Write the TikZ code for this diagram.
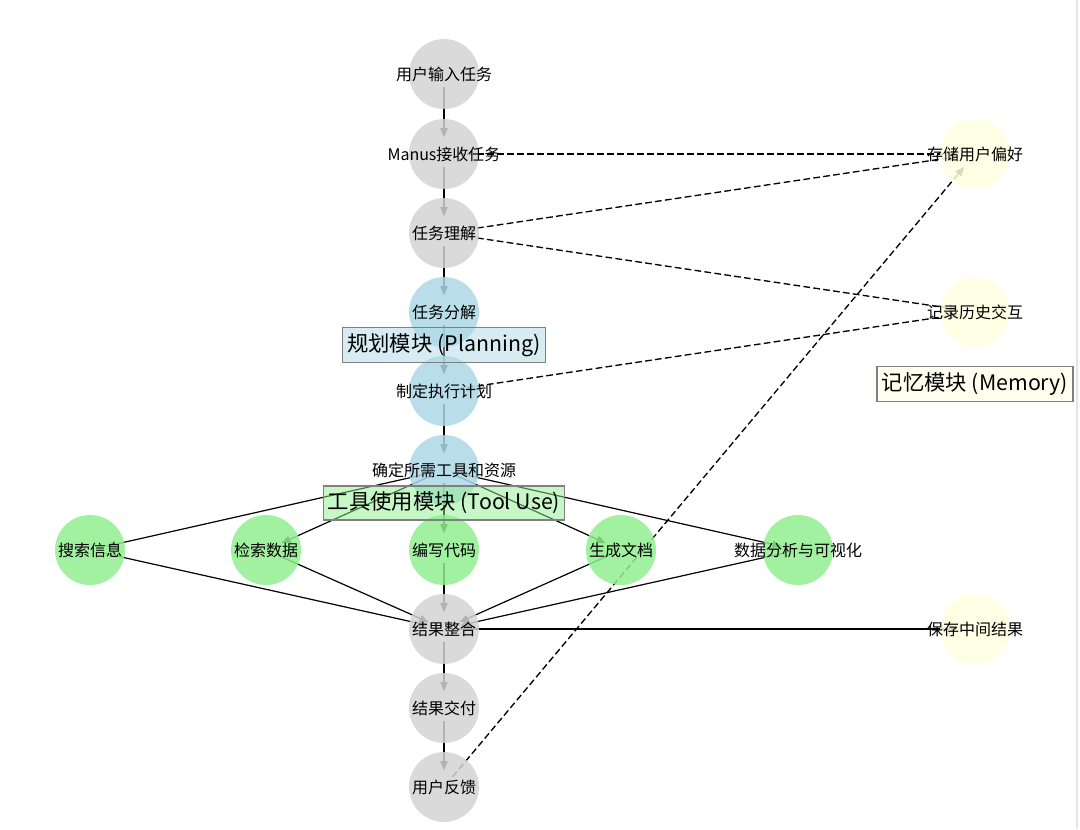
\documentclass[tikz,border=0pt]{standalone}
\usepackage{fontspec}
\setmainfont{Noto Sans CJK SC}
\usetikzlibrary{arrows.meta, backgrounds}

\definecolor{nodegray}{HTML}{D3D3D3}
\definecolor{planblue}{HTML}{ADD8E6}
\definecolor{toolgreen}{HTML}{90EE90}
\definecolor{memyellow}{HTML}{FFFFE0}
\definecolor{boxedge}{HTML}{808080}

\tikzset{
  stepnode/.style={circle, minimum size=52.5pt, inner sep=0pt, draw=none, fill opacity=0.85,
    label={[font=\fontsize{12}{14}\selectfont, inner sep=0pt]center:#1}},
  graynode/.style={stepnode=#1, fill=nodegray},
  bluenode/.style={stepnode=#1, fill=planblue},
  greennode/.style={stepnode=#1, fill=toolgreen},
  yellownode/.style={stepnode=#1, fill=memyellow},
  modulebox/.style={draw=boxedge, line width=1pt, fill opacity=0.5, text opacity=1,
    inner xsep=3.5pt, inner ysep=4.5pt, font=\fontsize{16}{19}\selectfont},
  flow/.style={line width=0.9pt, -{Triangle[length=7pt, width=5.5pt]}, shorten >=12.5pt, shorten <=10pt},
  memflow/.style={flow, line width=1pt, dash pattern=on 5pt off 2.5pt},
}

\begin{document}
\begin{tikzpicture}[x=0.75pt, y=-0.75pt]

\useasboundingbox (0, 0) rectangle (1080, 829);
\draw[line width=1.5pt, gray!20] (1077, 0) -- (1077, 829);

% main flow
\node[graynode={用户输入任务}] (input) at (444, 74) {};
\node[graynode={Manus接收任务}] (receive) at (444, 154) {};
\node[graynode={任务理解}] (understand) at (444, 233) {};
\node[bluenode={任务分解}] (decompose) at (444, 312) {};
\node[bluenode={制定执行计划}] (plan) at (444, 391) {};
\node[bluenode={确定所需工具和资源}] (tools) at (444, 470) {};
\node[graynode={结果整合}] (merge) at (444, 629) {};
\node[graynode={结果交付}] (deliver) at (444, 708) {};
\node[graynode={用户反馈}] (feedback) at (444, 787) {};

% tools
\node[greennode={搜索信息}] (search) at (90, 550) {};
\node[greennode={检索数据}] (fetch) at (266, 550) {};
\node[greennode={编写代码}] (code) at (444, 550) {};
\node[greennode={生成文档}] (docs) at (621, 550) {};
\node[greennode={数据分析与可视化}] (analyze) at (798, 550) {};

% memory
\node[yellownode={存储用户偏好}] (prefs) at (975, 154) {};
\node[yellownode={记录历史交互}] (history) at (975, 312) {};
\node[yellownode={保存中间结果}] (interim) at (975, 629) {};

\begin{scope}[on background layer]
\draw[flow] (input.center) -- (receive.center);
\draw[flow] (receive.center) -- (understand.center);
\draw[flow] (understand.center) -- (decompose.center);
\draw[flow] (decompose.center) -- (plan.center);
\draw[flow] (plan.center) -- (tools.center);
\draw[flow] (tools.center) -- (code.center);
\draw[flow] (code.center) -- (merge.center);
\draw[flow] (merge.center) -- (deliver.center);
\draw[flow] (deliver.center) -- (feedback.center);

\draw[flow] (tools.center) -- (search.center);
\draw[flow] (tools.center) -- (fetch.center);
\draw[flow] (tools.center) -- (docs.center);
\draw[flow] (tools.center) -- (analyze.center);
\draw[flow] (search.center) -- (merge.center);
\draw[flow] (fetch.center) -- (merge.center);
\draw[flow] (docs.center) -- (merge.center);
\draw[flow] (analyze.center) -- (merge.center);

\draw[memflow] (receive.center) -- (prefs.center);
\draw[memflow] (understand.center) -- (prefs.center);
\draw[memflow] (understand.center) -- (history.center);
\draw[memflow] (plan.center) -- (history.center);
\draw[memflow] (feedback.center) -- (prefs.center);
\draw[flow] (merge.center) -- (interim.center);
\end{scope}

% module labels
\node[modulebox, fill=planblue] (planning) at (444, 345) {规划模块 (Planning)};
\node[modulebox, fill=toolgreen] (tooluse) at (444, 503) {工具使用模块 (Tool Use)};
\node[modulebox, fill=memyellow] (memory) at (975, 384) {记忆模块 (Memory)};

\end{tikzpicture}
\end{document}
